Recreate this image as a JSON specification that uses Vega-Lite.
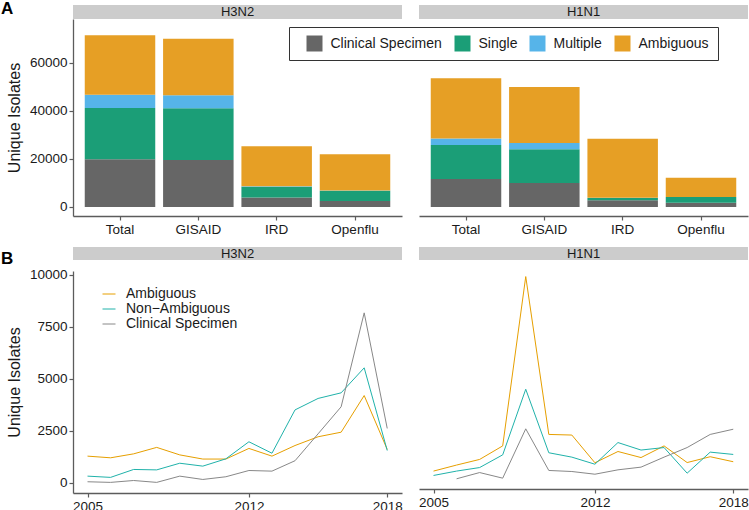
{
  "$schema": "https://vega.github.io/schema/vega-lite/v6.json",
  "padding": {"left": 1, "top": 0, "right": 0, "bottom": 0},
  "autosize": {"type": "pad"},
  "config": {
    "font": "Liberation Sans",
    "view": {"stroke": null},
    "axis": {
      "grid": false,
      "domainColor": "#5c5c5c",
      "domainWidth": 1.3,
      "tickColor": "#5c5c5c",
      "tickWidth": 1.2,
      "tickSize": 4,
      "labelColor": "#1a1a1a",
      "labelFontSize": 13.5,
      "labelPadding": 2,
      "labelFlush": false,
      "labelOverlap": false,
      "titleFontSize": 16,
      "titleFontWeight": "normal",
      "titleColor": "#1a1a1a",
      "titlePadding": 7
    }
  },
  "datasets": {
    "bars": [
      {"subtype": "H3N2", "source": "Total", "category": "Clinical Specimen", "count": 19900},
      {"subtype": "H3N2", "source": "Total", "category": "Single", "count": 21350},
      {"subtype": "H3N2", "source": "Total", "category": "Multiple", "count": 5550},
      {"subtype": "H3N2", "source": "Total", "category": "Ambiguous", "count": 24700},
      {"subtype": "H3N2", "source": "GISAID", "category": "Clinical Specimen", "count": 19600},
      {"subtype": "H3N2", "source": "GISAID", "category": "Single", "count": 21500},
      {"subtype": "H3N2", "source": "GISAID", "category": "Multiple", "count": 5400},
      {"subtype": "H3N2", "source": "GISAID", "category": "Ambiguous", "count": 23600},
      {"subtype": "H3N2", "source": "IRD", "category": "Clinical Specimen", "count": 4000},
      {"subtype": "H3N2", "source": "IRD", "category": "Single", "count": 4400},
      {"subtype": "H3N2", "source": "IRD", "category": "Multiple", "count": 200},
      {"subtype": "H3N2", "source": "IRD", "category": "Ambiguous", "count": 16700},
      {"subtype": "H3N2", "source": "Openflu", "category": "Clinical Specimen", "count": 2500},
      {"subtype": "H3N2", "source": "Openflu", "category": "Single", "count": 4300},
      {"subtype": "H3N2", "source": "Openflu", "category": "Multiple", "count": 100},
      {"subtype": "H3N2", "source": "Openflu", "category": "Ambiguous", "count": 15050},
      {"subtype": "H1N1", "source": "Total", "category": "Clinical Specimen", "count": 11700},
      {"subtype": "H1N1", "source": "Total", "category": "Single", "count": 14150},
      {"subtype": "H1N1", "source": "Total", "category": "Multiple", "count": 2650},
      {"subtype": "H1N1", "source": "Total", "category": "Ambiguous", "count": 25100},
      {"subtype": "H1N1", "source": "GISAID", "category": "Clinical Specimen", "count": 10000},
      {"subtype": "H1N1", "source": "GISAID", "category": "Single", "count": 14000},
      {"subtype": "H1N1", "source": "GISAID", "category": "Multiple", "count": 2650},
      {"subtype": "H1N1", "source": "GISAID", "category": "Ambiguous", "count": 23350},
      {"subtype": "H1N1", "source": "IRD", "category": "Clinical Specimen", "count": 2800},
      {"subtype": "H1N1", "source": "IRD", "category": "Single", "count": 900},
      {"subtype": "H1N1", "source": "IRD", "category": "Multiple", "count": 100},
      {"subtype": "H1N1", "source": "IRD", "category": "Ambiguous", "count": 24650},
      {"subtype": "H1N1", "source": "Openflu", "category": "Clinical Specimen", "count": 1800},
      {"subtype": "H1N1", "source": "Openflu", "category": "Single", "count": 2350},
      {"subtype": "H1N1", "source": "Openflu", "category": "Multiple", "count": 50},
      {"subtype": "H1N1", "source": "Openflu", "category": "Ambiguous", "count": 8000}
    ],
    "lines": [
      {"subtype": "H3N2", "type": "Ambiguous", "year": 2005, "isolates": 1280},
      {"subtype": "H3N2", "type": "Ambiguous", "year": 2006, "isolates": 1200},
      {"subtype": "H3N2", "type": "Ambiguous", "year": 2007, "isolates": 1390},
      {"subtype": "H3N2", "type": "Ambiguous", "year": 2008, "isolates": 1700},
      {"subtype": "H3N2", "type": "Ambiguous", "year": 2009, "isolates": 1340},
      {"subtype": "H3N2", "type": "Ambiguous", "year": 2010, "isolates": 1140},
      {"subtype": "H3N2", "type": "Ambiguous", "year": 2011, "isolates": 1140},
      {"subtype": "H3N2", "type": "Ambiguous", "year": 2012, "isolates": 1650},
      {"subtype": "H3N2", "type": "Ambiguous", "year": 2013, "isolates": 1280},
      {"subtype": "H3N2", "type": "Ambiguous", "year": 2014, "isolates": 1790},
      {"subtype": "H3N2", "type": "Ambiguous", "year": 2015, "isolates": 2210},
      {"subtype": "H3N2", "type": "Ambiguous", "year": 2016, "isolates": 2430},
      {"subtype": "H3N2", "type": "Ambiguous", "year": 2017, "isolates": 4190},
      {"subtype": "H3N2", "type": "Ambiguous", "year": 2018, "isolates": 1600},
      {"subtype": "H3N2", "type": "Non-Ambiguous", "year": 2005, "isolates": 320},
      {"subtype": "H3N2", "type": "Non-Ambiguous", "year": 2006, "isolates": 260},
      {"subtype": "H3N2", "type": "Non-Ambiguous", "year": 2007, "isolates": 640},
      {"subtype": "H3N2", "type": "Non-Ambiguous", "year": 2008, "isolates": 620},
      {"subtype": "H3N2", "type": "Non-Ambiguous", "year": 2009, "isolates": 940},
      {"subtype": "H3N2", "type": "Non-Ambiguous", "year": 2010, "isolates": 800},
      {"subtype": "H3N2", "type": "Non-Ambiguous", "year": 2011, "isolates": 1150},
      {"subtype": "H3N2", "type": "Non-Ambiguous", "year": 2012, "isolates": 1970},
      {"subtype": "H3N2", "type": "Non-Ambiguous", "year": 2013, "isolates": 1420},
      {"subtype": "H3N2", "type": "Non-Ambiguous", "year": 2014, "isolates": 3500},
      {"subtype": "H3N2", "type": "Non-Ambiguous", "year": 2015, "isolates": 4050},
      {"subtype": "H3N2", "type": "Non-Ambiguous", "year": 2016, "isolates": 4320},
      {"subtype": "H3N2", "type": "Non-Ambiguous", "year": 2017, "isolates": 5520},
      {"subtype": "H3N2", "type": "Non-Ambiguous", "year": 2018, "isolates": 1550},
      {"subtype": "H3N2", "type": "Clinical Specimen", "year": 2005, "isolates": 50},
      {"subtype": "H3N2", "type": "Clinical Specimen", "year": 2006, "isolates": 20},
      {"subtype": "H3N2", "type": "Clinical Specimen", "year": 2007, "isolates": 110},
      {"subtype": "H3N2", "type": "Clinical Specimen", "year": 2008, "isolates": 20},
      {"subtype": "H3N2", "type": "Clinical Specimen", "year": 2009, "isolates": 320},
      {"subtype": "H3N2", "type": "Clinical Specimen", "year": 2010, "isolates": 160},
      {"subtype": "H3N2", "type": "Clinical Specimen", "year": 2011, "isolates": 290},
      {"subtype": "H3N2", "type": "Clinical Specimen", "year": 2012, "isolates": 590},
      {"subtype": "H3N2", "type": "Clinical Specimen", "year": 2013, "isolates": 560},
      {"subtype": "H3N2", "type": "Clinical Specimen", "year": 2014, "isolates": 1060},
      {"subtype": "H3N2", "type": "Clinical Specimen", "year": 2015, "isolates": 2350},
      {"subtype": "H3N2", "type": "Clinical Specimen", "year": 2016, "isolates": 3650},
      {"subtype": "H3N2", "type": "Clinical Specimen", "year": 2017, "isolates": 8160},
      {"subtype": "H3N2", "type": "Clinical Specimen", "year": 2018, "isolates": 2610},
      {"subtype": "H1N1", "type": "Ambiguous", "year": 2005, "isolates": 370},
      {"subtype": "H1N1", "type": "Ambiguous", "year": 2006, "isolates": 660},
      {"subtype": "H1N1", "type": "Ambiguous", "year": 2007, "isolates": 930},
      {"subtype": "H1N1", "type": "Ambiguous", "year": 2008, "isolates": 1580},
      {"subtype": "H1N1", "type": "Ambiguous", "year": 2009, "isolates": 9710},
      {"subtype": "H1N1", "type": "Ambiguous", "year": 2010, "isolates": 2130},
      {"subtype": "H1N1", "type": "Ambiguous", "year": 2011, "isolates": 2100},
      {"subtype": "H1N1", "type": "Ambiguous", "year": 2012, "isolates": 770},
      {"subtype": "H1N1", "type": "Ambiguous", "year": 2013, "isolates": 1310},
      {"subtype": "H1N1", "type": "Ambiguous", "year": 2014, "isolates": 1020},
      {"subtype": "H1N1", "type": "Ambiguous", "year": 2015, "isolates": 1580},
      {"subtype": "H1N1", "type": "Ambiguous", "year": 2016, "isolates": 780},
      {"subtype": "H1N1", "type": "Ambiguous", "year": 2017, "isolates": 1060},
      {"subtype": "H1N1", "type": "Ambiguous", "year": 2018, "isolates": 820},
      {"subtype": "H1N1", "type": "Non-Ambiguous", "year": 2005, "isolates": 160},
      {"subtype": "H1N1", "type": "Non-Ambiguous", "year": 2006, "isolates": 370},
      {"subtype": "H1N1", "type": "Non-Ambiguous", "year": 2007, "isolates": 540},
      {"subtype": "H1N1", "type": "Non-Ambiguous", "year": 2008, "isolates": 1150},
      {"subtype": "H1N1", "type": "Non-Ambiguous", "year": 2009, "isolates": 4300},
      {"subtype": "H1N1", "type": "Non-Ambiguous", "year": 2010, "isolates": 1250},
      {"subtype": "H1N1", "type": "Non-Ambiguous", "year": 2011, "isolates": 1040},
      {"subtype": "H1N1", "type": "Non-Ambiguous", "year": 2012, "isolates": 700},
      {"subtype": "H1N1", "type": "Non-Ambiguous", "year": 2013, "isolates": 1740},
      {"subtype": "H1N1", "type": "Non-Ambiguous", "year": 2014, "isolates": 1380},
      {"subtype": "H1N1", "type": "Non-Ambiguous", "year": 2015, "isolates": 1500},
      {"subtype": "H1N1", "type": "Non-Ambiguous", "year": 2016, "isolates": 270},
      {"subtype": "H1N1", "type": "Non-Ambiguous", "year": 2017, "isolates": 1280},
      {"subtype": "H1N1", "type": "Non-Ambiguous", "year": 2018, "isolates": 1170},
      {"subtype": "H1N1", "type": "Clinical Specimen", "year": 2006, "isolates": 0},
      {"subtype": "H1N1", "type": "Clinical Specimen", "year": 2007, "isolates": 300},
      {"subtype": "H1N1", "type": "Clinical Specimen", "year": 2008, "isolates": 30},
      {"subtype": "H1N1", "type": "Clinical Specimen", "year": 2009, "isolates": 2400},
      {"subtype": "H1N1", "type": "Clinical Specimen", "year": 2010, "isolates": 400},
      {"subtype": "H1N1", "type": "Clinical Specimen", "year": 2011, "isolates": 350},
      {"subtype": "H1N1", "type": "Clinical Specimen", "year": 2012, "isolates": 220},
      {"subtype": "H1N1", "type": "Clinical Specimen", "year": 2013, "isolates": 430},
      {"subtype": "H1N1", "type": "Clinical Specimen", "year": 2014, "isolates": 560},
      {"subtype": "H1N1", "type": "Clinical Specimen", "year": 2015, "isolates": 1040},
      {"subtype": "H1N1", "type": "Clinical Specimen", "year": 2016, "isolates": 1500},
      {"subtype": "H1N1", "type": "Clinical Specimen", "year": 2017, "isolates": 2130},
      {"subtype": "H1N1", "type": "Clinical Specimen", "year": 2018, "isolates": 2380}
    ]
  },
  "vconcat": [
    {
      "hconcat": [
        {
          "vconcat": [
            {
              "width": 329, "height": 14,
              "title": {"text": "A", "anchor": "start", "frame": "group", "offset": -26, "dx": -72, "baseline": "alphabetic", "fontSize": 17, "fontWeight": "bold", "color": "#000000"},
              "data": {"values": [{"strip": "H3N2"}]},
              "layer": [
                {"mark": {"type": "rect", "color": "#CCCCCC"}, "encoding": {"x": {"field": "strip", "type": "nominal", "axis": null, "scale": {"paddingInner": 0, "paddingOuter": 0}}}},
                {"mark": {"type": "text", "fontSize": 13, "color": "#1a1a1a"}, "encoding": {"x": {"field": "strip", "type": "nominal", "axis": null}, "text": {"field": "strip"}}}
              ]
            },
            {
              "width": 329, "height": 197,
              "data": {"name": "bars"},
              "transform": [
                {"filter": "datum.subtype === 'H3N2'"},
                {"calculate": "indexof(['Clinical Specimen', 'Single', 'Multiple', 'Ambiguous'], datum.category)", "as": "stackOrder"}
              ],
              "mark": {"type": "bar"},
              "encoding": {
                "x": {"field": "source", "type": "nominal", "sort": ["Total", "GISAID", "IRD", "Openflu"], "scale": {"paddingInner": 0.1, "paddingOuter": 0.15}, "axis": {"title": null, "labelAngle": 0}},
                "y": {"field": "count", "type": "quantitative", "stack": "zero", "scale": {"domain": [-3750, 78300], "nice": false, "zero": false}, "axis": {"values": [0, 20000, 40000, 60000], "format": "d", "title": "Unique Isolates"}},
                "order": {"field": "stackOrder", "type": "quantitative", "sort": "ascending"},
                "fill": {"field": "category", "type": "nominal", "sort": ["Clinical Specimen", "Single", "Multiple", "Ambiguous"], "scale": {"domain": ["Clinical Specimen", "Single", "Multiple", "Ambiguous"], "range": ["#666666", "#1B9E77", "#56B4E9", "#E69F25"]},
                  "legend": {"orient": "none", "legendX": 216, "legendY": 22, "direction": "horizontal", "title": null, "symbolType": "square", "symbolSize": 256, "symbolStrokeWidth": 0, "symbolOpacity": 1, "symbolOffset": 9, "labelFontSize": 14, "labelColor": "#1a1a1a", "labelOffset": 8, "columnPadding": 3, "padding": 8.5, "strokeColor": "#333333", "fillColor": "#ffffff"}}
              }
            }
          ],
          "spacing": 0
        },
        {
          "vconcat": [
            {
              "width": 329, "height": 14,
              "title": {"text": " ", "anchor": "start", "frame": "group", "offset": -26, "dx": 0, "baseline": "alphabetic", "fontSize": 17, "fontWeight": "bold", "color": "#000000"},
              "data": {"values": [{"strip": "H1N1"}]},
              "layer": [
                {"mark": {"type": "rect", "color": "#CCCCCC"}, "encoding": {"x": {"field": "strip", "type": "nominal", "axis": null, "scale": {"paddingInner": 0, "paddingOuter": 0}}}},
                {"mark": {"type": "text", "fontSize": 13, "color": "#1a1a1a"}, "encoding": {"x": {"field": "strip", "type": "nominal", "axis": null}, "text": {"field": "strip"}}}
              ]
            },
            {
              "width": 329, "height": 197,
              "data": {"name": "bars"},
              "transform": [
                {"filter": "datum.subtype === 'H1N1'"},
                {"calculate": "indexof(['Clinical Specimen', 'Single', 'Multiple', 'Ambiguous'], datum.category)", "as": "stackOrder"}
              ],
              "mark": {"type": "bar"},
              "encoding": {
                "x": {"field": "source", "type": "nominal", "sort": ["Total", "GISAID", "IRD", "Openflu"], "scale": {"paddingInner": 0.1, "paddingOuter": 0.15}, "axis": {"title": null, "labelAngle": 0}},
                "y": {"field": "count", "type": "quantitative", "stack": "zero", "scale": {"domain": [-3750, 78300], "nice": false, "zero": false}, "axis": null},
                "order": {"field": "stackOrder", "type": "quantitative", "sort": "ascending"},
                "fill": {"field": "category", "type": "nominal", "sort": ["Clinical Specimen", "Single", "Multiple", "Ambiguous"], "scale": {"domain": ["Clinical Specimen", "Single", "Multiple", "Ambiguous"], "range": ["#666666", "#1B9E77", "#56B4E9", "#E69F25"]},
                  "legend": {"orient": "none", "legendX": 216, "legendY": 22, "direction": "horizontal", "title": null, "symbolType": "square", "symbolSize": 256, "symbolStrokeWidth": 0, "symbolOpacity": 1, "symbolOffset": 9, "labelFontSize": 14, "labelColor": "#1a1a1a", "labelOffset": 8, "columnPadding": 3, "padding": 8.5, "strokeColor": "#333333", "fillColor": "#ffffff"}}
              }
            }
          ],
          "spacing": 0
        }
      ],
      "spacing": 17
    },
    {
      "hconcat": [
        {
          "vconcat": [
            {
              "width": 329, "height": 13,
              "title": {"text": "B", "anchor": "start", "frame": "group", "offset": -34, "dx": -72, "baseline": "alphabetic", "fontSize": 17, "fontWeight": "bold", "color": "#000000"},
              "data": {"values": [{"strip": "H3N2"}]},
              "layer": [
                {"mark": {"type": "rect", "color": "#CCCCCC"}, "encoding": {"x": {"field": "strip", "type": "nominal", "axis": null, "scale": {"paddingInner": 0, "paddingOuter": 0}}}},
                {"mark": {"type": "text", "fontSize": 13, "color": "#1a1a1a"}, "encoding": {"x": {"field": "strip", "type": "nominal", "axis": null}, "text": {"field": "strip"}}}
              ]
            },
            {
              "width": 329, "height": 222,
              "data": {"name": "lines"},
              "transform": [{"filter": "datum.subtype === 'H3N2'"}],
              "mark": {"type": "line", "strokeWidth": 1},
              "encoding": {
                "x": {"field": "year", "type": "quantitative", "scale": {"domain": [2004.37, 2018.64], "nice": false, "zero": false}, "axis": {"values": [2005, 2012, 2018], "format": "d", "title": null}},
                "y": {"field": "isolates", "type": "quantitative", "scale": {"domain": [-490, 10170], "nice": false, "zero": false}, "axis": {"values": [0, 2500, 5000, 7500, 10000], "format": "d", "title": "Unique Isolates"}},
                "stroke": {"field": "type", "type": "nominal", "sort": ["Ambiguous", "Non-Ambiguous", "Clinical Specimen"], "scale": {"domain": ["Ambiguous", "Non-Ambiguous", "Clinical Specimen"], "range": ["#E69F00", "#20B2AA", "#888888"]},
                  "legend": {"orient": "none", "legendX": 29, "legendY": 282, "title": null, "symbolType": "stroke", "symbolSize": 169, "symbolStrokeWidth": 1, "labelFontSize": 14, "labelColor": "#1a1a1a", "labelOffset": 10, "rowPadding": 1, "labelExpr": "replace(datum.label, '-', '\u2212')"}}
              }
            }
          ],
          "spacing": 0
        },
        {
          "vconcat": [
            {
              "width": 329, "height": 13,
              "title": {"text": " ", "anchor": "start", "frame": "group", "offset": -34, "dx": 0, "baseline": "alphabetic", "fontSize": 17, "fontWeight": "bold", "color": "#000000"},
              "data": {"values": [{"strip": "H1N1"}]},
              "layer": [
                {"mark": {"type": "rect", "color": "#CCCCCC"}, "encoding": {"x": {"field": "strip", "type": "nominal", "axis": null, "scale": {"paddingInner": 0, "paddingOuter": 0}}}},
                {"mark": {"type": "text", "fontSize": 13, "color": "#1a1a1a"}, "encoding": {"x": {"field": "strip", "type": "nominal", "axis": null}, "text": {"field": "strip"}}}
              ]
            },
            {
              "width": 329, "height": 222,
              "data": {"name": "lines"},
              "transform": [{"filter": "datum.subtype === 'H1N1'"}],
              "mark": {"type": "line", "strokeWidth": 1},
              "encoding": {
                "x": {"field": "year", "type": "quantitative", "scale": {"domain": [2004.37, 2018.64], "nice": false, "zero": false}, "axis": {"values": [2005, 2012, 2018], "format": "d", "title": null}},
                "y": {"field": "isolates", "type": "quantitative", "scale": {"domain": [-490, 10170], "nice": false, "zero": false}, "axis": null},
                "stroke": {"field": "type", "type": "nominal", "sort": ["Ambiguous", "Non-Ambiguous", "Clinical Specimen"], "scale": {"domain": ["Ambiguous", "Non-Ambiguous", "Clinical Specimen"], "range": ["#E69F00", "#20B2AA", "#888888"]},
                  "legend": {"orient": "none", "legendX": 29, "legendY": 282, "title": null, "symbolType": "stroke", "symbolSize": 169, "symbolStrokeWidth": 1, "labelFontSize": 14, "labelColor": "#1a1a1a", "labelOffset": 10, "rowPadding": 1, "labelExpr": "replace(datum.label, '-', '\u2212')"}}
              }
            }
          ],
          "spacing": 0
        }
      ],
      "spacing": 15
    }
  ],
  "spacing": 11
}
